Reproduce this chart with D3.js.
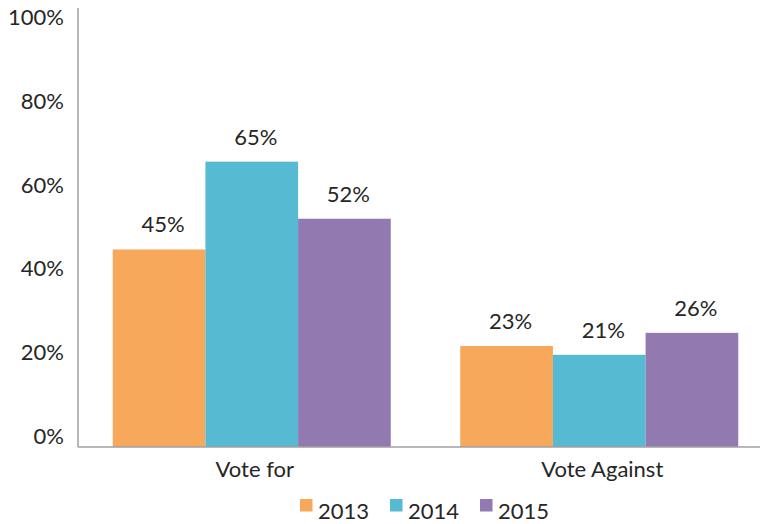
<!DOCTYPE html>
<html>
<head>
<meta charset="utf-8">
<script src="https://cdn.jsdelivr.net/npm/d3@7"></script>
<style>
body { margin: 0; background: #fff; }
text { font-family: Lato, "Open Sans", sans-serif; fill: #262626; }
</style>
</head>
<body>
<div id="chart"></div>
<script>
// chart data
var categories = ["Vote for", "Vote Against"];
var years = ["2013", "2014", "2015"];
var values = {
  "2013": [45, 23],
  "2014": [65, 21],
  "2015": [52, 26]
};
var yTicks = [0, 20, 40, 60, 80, 100];
var colors = ["#F8A85B", "#57BAD3", "#927AB1"];

var svg = d3.select("#chart").append("svg").attr("width", 760).attr("height", 524);

var x0 = d3.scaleBand().domain(categories).range([78, 773]).paddingInner(0.2).paddingOuter(0.1);
var x1 = d3.scaleBand().domain(years).range([0, x0.bandwidth()]);
var y = d3.scaleLinear().domain([0, 100]).range([447, 8]);
// tick labels sit on their own spacing in the original
var yLab = d3.scaleLinear().domain([0, 100]).range([436, 17]);
var color = d3.scaleOrdinal().domain(years).range(colors);

// bars
var groups = svg.selectAll("g.cat")
  .data(categories)
  .enter().append("g")
  .attr("class", "cat")
  .attr("transform", function (d) { return "translate(" + x0(d) + ",0)"; });

groups.selectAll("rect")
  .data(function (d, i) { return years.map(function (yr) { return {yr: yr, v: values[yr][i]}; }); })
  .enter().append("rect")
  .attr("x", function (d) { return x1(d.yr); })
  .attr("width", x1.bandwidth())
  .attr("y", function (d) { return y(d.v); })
  .attr("height", function (d) { return y(0) - y(d.v); })
  .attr("fill", function (d) { return color(d.yr); });

groups.selectAll("text.val")
  .data(function (d, i) { return years.map(function (yr) { return {yr: yr, v: values[yr][i]}; }); })
  .enter().append("text")
  .attr("class", "val")
  .attr("x", function (d) { return x1(d.yr) + x1.bandwidth() / 2 + 4; })
  .attr("y", function (d) { return y(d.v) - 25; })
  .attr("dy", "0.36em")
  .attr("text-anchor", "middle")
  .style("font-size", "22px")
  .text(function (d) { return d.v + "%"; });

// axes lines
svg.append("line")
  .attr("x1", 78).attr("x2", 78)
  .attr("y1", y(100)).attr("y2", y(0))
  .attr("stroke", "#A0A0A0").attr("stroke-width", 1.5);
svg.append("line")
  .attr("x1", 78).attr("x2", 760)
  .attr("y1", y(0)).attr("y2", y(0))
  .attr("stroke", "#A0A0A0").attr("stroke-width", 1.5);

// y tick labels
svg.selectAll("text.ytick")
  .data(yTicks)
  .enter().append("text")
  .attr("class", "ytick")
  .attr("x", 64)
  .attr("y", function (d) { return yLab(d); })
  .attr("dy", "0.36em")
  .attr("text-anchor", "end")
  .style("font-size", "22px")
  .text(function (d) { return d + "%"; });

// category labels
svg.selectAll("text.cat")
  .data(categories)
  .enter().append("text")
  .attr("class", "cat")
  .attr("x", function (d) { return x0(d) + x0.bandwidth() / 2 + 3; })
  .attr("y", 477)
  .attr("text-anchor", "middle")
  .style("font-size", "22px")
  .text(function (d) { return d; });

// legend
var leg = svg.selectAll("g.leg")
  .data(years)
  .enter().append("g")
  .attr("class", "leg")
  .attr("transform", function (d, i) { return "translate(" + (300 + i * 90) + ",499)"; });
leg.append("rect")
  .attr("width", 12.5).attr("height", 12.5)
  .attr("fill", function (d) { return color(d); });
leg.append("text")
  .attr("x", 18)
  .attr("y", 19.5)
  .style("font-size", "22px")
  .text(function (d) { return d; });
</script>
</body>
</html>
